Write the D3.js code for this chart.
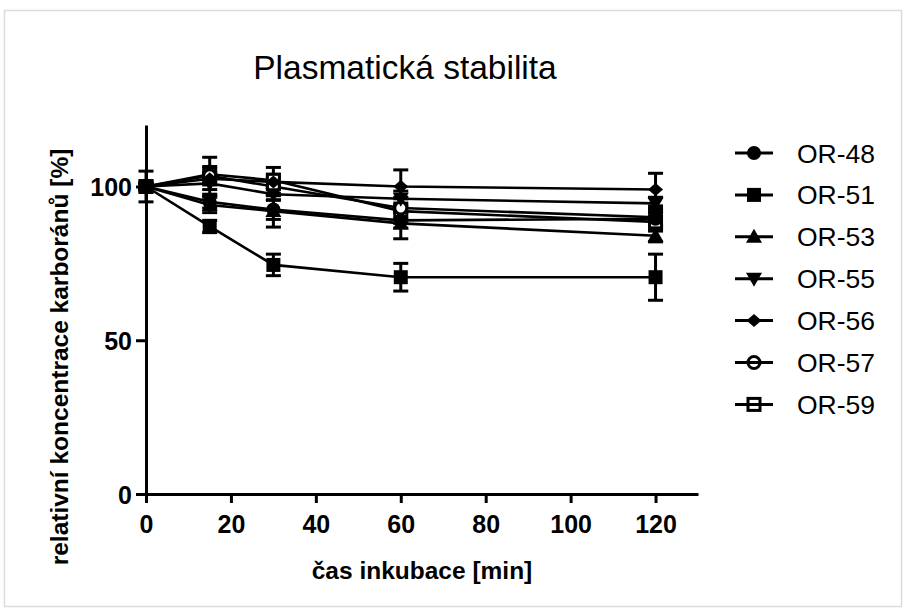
<!DOCTYPE html>
<html>
<head>
<meta charset="utf-8">
<script src="https://cdn.jsdelivr.net/npm/d3@7"></script>
<style>
  body { margin: 0; background: #fff; }
  svg text { font-family: "Liberation Sans", Arial, sans-serif; fill: #000; }
</style>
</head>
<body>
<svg id="chart" width="907" height="610"></svg>
<script>
// chart data
var times = [0, 15, 30, 60, 120];
var seriesNames = ["OR-48", "OR-51", "OR-53", "OR-55", "OR-56", "OR-57", "OR-59"];
var markerTypes = ["circle", "square", "triangle", "triangleDown", "diamond", "openCircle", "openSquare"];
var means = [
    [100, 95, 92.5, 89, 89.5],
    [100, 87, 74.5, 70.5, 70.5],
    [100, 94, 92, 88, 84],
    [100, 101, 97.5, 96, 94.5],
    [100, 102.5, 101.5, 100, 99],
    [100, 103.5, 100, 93, 90],
    [100, 104, 102, 92, 88.5]
];
var errors = [
    [1, 2, 3.2, 2.5, 2],
    [1, 2, 3.5, 4.5, 7.5],
    [1, 2.5, 5.2, 5, 2],
    [1, 2, 2, 2.5, 2],
    [1, 2, 2.5, 5.4, 5.3],
    [1, 6, 3, 3.5, 3],
    [5, 2.5, 4.2, 4, 3]
];
var xTicks = [0, 20, 40, 60, 80, 100, 120];
var yTicks = [0, 50, 100];

var svg = d3.select("#chart");

// light frame round the picture
svg.append("rect")
    .attr("x", 4.5).attr("y", 10.5)
    .attr("width", 897).attr("height", 596)
    .attr("fill", "none").attr("stroke", "#dcdcdc").attr("stroke-width", 1.5);

var x = d3.scaleLinear().domain([0, 130]).range([146, 698]);
var y = d3.scaleLinear().domain([0, 120]).range([494, 125]);

// title
svg.append("text")
    .attr("x", 405).attr("y", 79)
    .attr("text-anchor", "middle")
    .style("font-size", "33.5px")
    .text("Plasmatická stabilita");

// axes
var xAxis = svg.append("g")
    .attr("transform", "translate(0," + y(0) + ")")
    .call(d3.axisBottom(x).tickValues(xTicks).tickSize(9).tickSizeOuter(0).tickPadding(6));
var yAxis = svg.append("g")
    .attr("transform", "translate(" + x(0) + ",0)")
    .call(d3.axisLeft(y).tickValues(yTicks).tickSize(10).tickSizeOuter(0).tickPadding(4));

[xAxis, yAxis].forEach(function (ax) {
    ax.select(".domain").attr("stroke", "#000").attr("stroke-width", 3);
    ax.selectAll(".tick line").attr("stroke", "#000").attr("stroke-width", 3);
    ax.selectAll(".tick text")
        .style("font-size", "25px").style("font-weight", "bold")
        .style("font-family", "'Liberation Sans', Arial, sans-serif")
        .attr("fill", "#000");
});
xAxis.selectAll(".tick text").attr("dy", "0.95em");
yAxis.selectAll(".tick text").attr("dy", "0.36em");

// axis titles
svg.append("text")
    .attr("x", 422).attr("y", 579)
    .attr("text-anchor", "middle")
    .style("font-size", "24.5px").style("font-weight", "bold")
    .text("čas inkubace [min]");
svg.append("text")
    .attr("transform", "translate(68,357) rotate(-90)")
    .attr("text-anchor", "middle")
    .style("font-size", "24.5px").style("font-weight", "bold")
    .text("relativní koncentrace karboránů [%]");

// markers drawn by hand so they match the GraphPad shapes
function drawMarker(g, type, cx, cy, hollowFill) {
    var fillOpen = hollowFill || "#fff";
    if (type == "circle") {
        g.append("circle").attr("cx", cx).attr("cy", cy).attr("r", 7).attr("fill", "#000");
    } else if (type == "square") {
        g.append("rect").attr("x", cx - 7).attr("y", cy - 7).attr("width", 14).attr("height", 14).attr("fill", "#000");
    } else if (type == "triangle") {
        g.append("path").attr("d", "M" + cx + "," + (cy - 8) + "L" + (cx + 8) + "," + (cy + 6) + "L" + (cx - 8) + "," + (cy + 6) + "Z").attr("fill", "#000");
    } else if (type == "triangleDown") {
        g.append("path").attr("d", "M" + cx + "," + (cy + 8) + "L" + (cx + 8) + "," + (cy - 6) + "L" + (cx - 8) + "," + (cy - 6) + "Z").attr("fill", "#000");
    } else if (type == "diamond") {
        g.append("path").attr("d", "M" + cx + "," + (cy - 6.5) + "L" + (cx + 7.5) + "," + cy + "L" + cx + "," + (cy + 6.5) + "L" + (cx - 7.5) + "," + cy + "Z").attr("fill", "#000");
    } else if (type == "openCircle") {
        g.append("circle").attr("cx", cx).attr("cy", cy).attr("r", 6).attr("fill", fillOpen).attr("stroke", "#000").attr("stroke-width", 3);
    } else if (type == "openSquare") {
        g.append("rect").attr("x", cx - 6).attr("y", cy - 6).attr("width", 12).attr("height", 12).attr("fill", fillOpen).attr("stroke", "#000").attr("stroke-width", 3);
    }
}

var line = d3.line()
    .x(function (d, i) { return x(times[i]); })
    .y(function (d) { return y(d); });

var plot = svg.append("g");

// connecting lines
means.forEach(function (m) {
    plot.append("path").datum(m)
        .attr("d", line)
        .attr("fill", "none").attr("stroke", "#000").attr("stroke-width", 2.6);
});

// error bars
means.forEach(function (m, s) {
    m.forEach(function (v, i) {
        var cx = x(times[i]), top = y(v + errors[s][i]), bot = y(v - errors[s][i]);
        plot.append("line").attr("x1", cx).attr("x2", cx).attr("y1", top).attr("y2", bot)
            .attr("stroke", "#000").attr("stroke-width", 3);
        [top, bot].forEach(function (yy) {
            plot.append("line").attr("x1", cx - 7.5).attr("x2", cx + 7.5).attr("y1", yy).attr("y2", yy)
                .attr("stroke", "#000").attr("stroke-width", 3);
        });
    });
});

// markers, last series first so the filled ones sit on top
for (var s = means.length - 1; s >= 0; s--) {
    means[s].forEach(function (v, i) {
        drawMarker(plot, markerTypes[s], x(times[i]), y(v));
    });
}

// legend (line runs through the hollow symbols)
var legend = svg.append("g");
seriesNames.forEach(function (name, s) {
    var ly = 153 + s * 41.9;
    legend.append("line").attr("x1", 735).attr("x2", 773).attr("y1", ly).attr("y2", ly)
        .attr("stroke", "#000").attr("stroke-width", 3);
    drawMarker(legend, markerTypes[s], 754, ly, "none");
    legend.append("text")
        .attr("x", 797).attr("y", ly + 9.5)
        .style("font-size", "26.5px")
        .text(name);
});
</script>
</body>
</html>
